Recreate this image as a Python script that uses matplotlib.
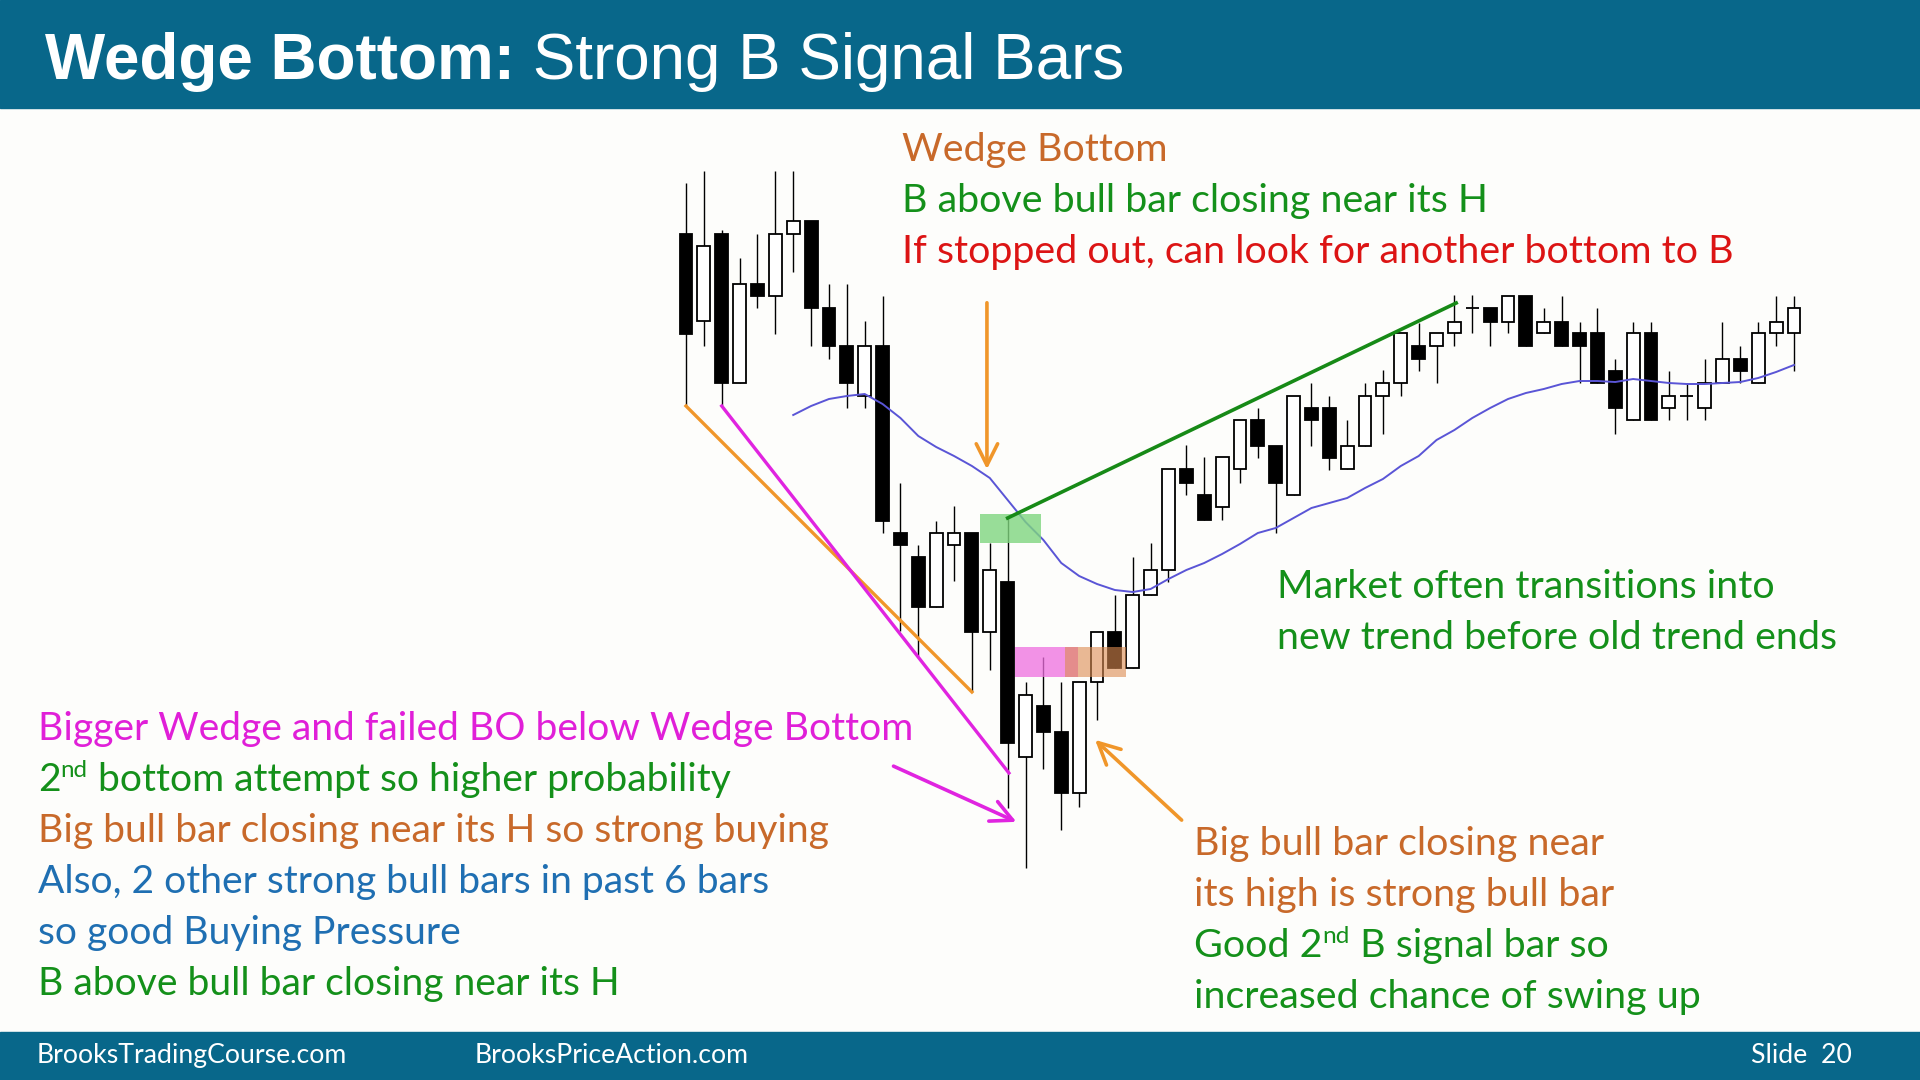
import numpy as np
import matplotlib
matplotlib.use("Agg")
import matplotlib.pyplot as plt
from matplotlib.patches import Rectangle

W, H = 1920, 1080
SLIDE_TOP = 1080  # bar levels in px from the top edge

# --- OHLC, one entry per bar (px from top of slide) ---
OPEN_PX = [234, 321, 234, 383, 284, 296, 234, 221, 308, 346,
           396, 346, 533, 557, 607, 545, 533, 632, 582, 757,
           706, 732, 793, 682, 632, 668, 595, 570, 469, 495,
           507, 469, 420, 446, 495, 408, 408, 469, 446, 396,
           383, 346, 346, 333, 308, 308, 322, 296, 333, 322,
           333, 333, 371, 420, 333, 408, 396, 408, 383, 359,
           383, 333, 333]
HIGH_PX = [183, 171, 230, 258, 234, 171, 171, 221, 284, 284,
           321, 296, 483, 545, 521, 506, 533, 543, 518, 682,
           657, 682, 682, 632, 595, 557, 543, 469, 445, 457,
           457, 420, 408, 446, 396, 383, 396, 420, 383, 370,
           333, 323, 333, 295, 295, 308, 296, 296, 308, 296,
           322, 308, 359, 322, 322, 371, 383, 359, 322, 346,
           322, 296, 296]
LOW_PX = [406, 346, 406, 383, 308, 334, 272, 346, 359, 408,
          408, 533, 631, 656, 607, 581, 692, 670, 808, 868,
          769, 830, 807, 720, 668, 668, 595, 582, 495, 520,
          520, 483, 458, 533, 495, 446, 470, 469, 446, 434,
          396, 371, 383, 346, 333, 346, 333, 346, 333, 346,
          383, 383, 434, 420, 420, 420, 420, 420, 383, 383,
          383, 346, 371]
CLOSE_PX = [334, 246, 383, 284, 296, 234, 221, 308, 346, 383,
            346, 521, 545, 607, 533, 533, 632, 570, 743, 695,
            732, 793, 682, 632, 668, 595, 570, 469, 483, 520,
            457, 420, 446, 483, 396, 420, 458, 446, 396, 383,
            333, 359, 333, 322, 308, 322, 296, 346, 322, 346,
            346, 383, 408, 333, 420, 396, 396, 383, 359, 371,
            333, 322, 308]

# moving average, starts at bar 6
MA_START = 6
MA_PX = [415, 406, 399, 396, 394, 404, 418, 436, 447, 456,
         466, 478, 500, 522, 540, 563, 576, 584, 590, 592,
         589, 579, 570, 563, 554, 544, 533, 528, 518, 508,
         503, 498, 488, 479, 466, 456, 440, 430, 418, 408,
         399, 393, 389, 384, 381, 381, 382, 379, 381, 383,
         384, 384, 383, 382, 378, 372, 365]

# trend lines (bar index, px)
ORANGE_LINE = ([0, 16], [406, 692])
MAGENTA_LINE = ([2, 18.07], [406, 773])
GREEN_LINE = ([18, 43.1], [518, 303])

# highlighted zones (bar index span, px span)
ZONES = [
    ((16.45, 19.85), (514, 543), "#7fd67f", 0.8),
    ((18.4, 21.95), (647, 677), "#ef6fe0", 0.75),
    ((21.2, 24.6), (647, 677), "#dc8a50", 0.6),
]

# arrows: (tail idx, tail px, head idx, head px, colour)
ARROWS = [
    (16.84, 300, 16.84, 472, "#f0962a"),
    (11.47, 765, 18.63, 823, "#e024e0"),
    (27.85, 822, 22.78, 738, "#f0962a"),
]

BAR0_X, BAR_STEP = 686, 17.87

TEAL = "#08678a"
BROWN = "#c8692a"
GREEN = "#14901a"
RED = "#dc1414"
MAGENTA = "#e01fd8"
BLUE = "#1f6fb2"
BODY_FONT = ["Lato", "DejaVu Sans"]
TITLE_FONT = ["Liberation Sans Narrow", "Liberation Sans"]


def price(px):
    return SLIDE_TOP - np.asarray(px, float)


fig = plt.figure(figsize=(19.2, 10.8), dpi=100)
fig.patch.set_facecolor("#fdfdfb")

ov = fig.add_axes([0, 0, 1, 1])
ov.set_xlim(0, W)
ov.set_ylim(H, 0)
ov.axis("off")
ov.add_patch(Rectangle((0, 0), W, 108, color=TEAL, zorder=0))
ov.add_patch(Rectangle((0, 1032), W, 48, color=TEAL, zorder=0))

ax = fig.add_axes([0, 0, 1, 1], zorder=1)
ax.patch.set_alpha(0)
ax.set_xlim(-BAR0_X / BAR_STEP, (W - BAR0_X) / BAR_STEP)
ax.set_ylim(0, H)
ax.axis("off")

o, h, l, c = price(OPEN_PX), price(HIGH_PX), price(LOW_PX), price(CLOSE_PX)
x = np.arange(len(o))
flat = o == c
bull = c > o

ax.vlines(x, l, h, color="black", lw=1.0, zorder=2)
lo = np.minimum(o, c)
ax.bar(x[~flat], np.abs(c - o)[~flat], bottom=lo[~flat], width=0.72,
       color=np.where(bull, "white", "black")[~flat],
       edgecolor="black", linewidth=1.3, zorder=3)
ax.hlines(o[flat], x[flat] - 0.36, x[flat] + 0.36, color="black", lw=1.3, zorder=3)

ma_x = np.arange(MA_START, MA_START + len(MA_PX))
ax.plot(ma_x, price(MA_PX), color="#5a55d6", lw=1.4, zorder=4)

for (x0, x1), (y0, y1), col, a in ZONES:
    ax.add_patch(Rectangle((x0, price(y1)), x1 - x0, y1 - y0,
                           facecolor=col, edgecolor="none", alpha=a, zorder=5))

ax.plot(ORANGE_LINE[0], price(ORANGE_LINE[1]), color="#f0962a", lw=2.4, zorder=6)
ax.plot(MAGENTA_LINE[0], price(MAGENTA_LINE[1]), color="#e024e0", lw=2.4, zorder=6)
ax.plot(GREEN_LINE[0], price(GREEN_LINE[1]), color="#178a17", lw=2.6, zorder=6)

for tx, ty, hx, hy, col in ARROWS:
    ax.annotate("", xy=(hx, price(hy)), xytext=(tx, price(ty)),
                arrowprops=dict(arrowstyle="->,head_length=0.7,head_width=0.35",
                                color=col, lw=2.6, mutation_scale=22),
                zorder=7)

renderer = fig.canvas.get_renderer()


def width_at(parts, size):
    total = 0.0
    for txt, fam, wt in parts:
        t = fig.text(0, 0, txt, fontsize=size, family=fam, weight=wt)
        total += t.get_window_extent(renderer).width
        t.remove()
    return total


def fit(parts, target):
    return 20 * target / width_at(parts, 20)


def draw_line(x0, base, parts, size, family=BODY_FONT, weight="normal"):
    # parts: (text, colour, superscript?)
    xx = x0
    for txt, col, sup in parts:
        fs = size * 0.62 if sup else size
        yy = base - size * 100 / 72 * 0.36 if sup else base
        t = fig.text(xx / W, 1 - yy / H, txt, fontsize=fs, color=col,
                     family=family, weight=weight, va="baseline", ha="left")
        xx = t.get_window_extent(renderer).x1


# title
title_size = fit([("Wedge Bottom:", TITLE_FONT, "bold"),
                  (" Strong B Signal Bars", TITLE_FONT, "normal")], 1079)
tx = 45
t = fig.text(tx / W, 1 - 79 / H, "Wedge Bottom:", fontsize=title_size, color="white",
             family=TITLE_FONT, weight="bold", va="baseline")
tx = t.get_window_extent(renderer).x1
fig.text(tx / W, 1 - 79 / H, " Strong B Signal Bars", fontsize=title_size, color="white",
         family=TITLE_FONT, va="baseline")

# footer
foot_size = fit([("BrooksTradingCourse.com", BODY_FONT, "normal")], 310)
for fx, txt in [(37, "BrooksTradingCourse.com"), (475, "BrooksPriceAction.com"), (1751, "Slide  20")]:
    fig.text(fx / W, 1 - 1063 / H, txt, fontsize=foot_size, color="white",
             family=BODY_FONT, va="baseline")

# annotations
fs = fit([("If stopped out, can look for another bottom to B", BODY_FONT, "normal")], 833)
fs_left = fit([("Bigger Wedge and failed BO below Wedge Bottom", BODY_FONT, "normal")], 866)
fs_left = (fs + fs_left) / 2

top_block = [
    [("Wedge Bottom", BROWN, False)],
    [("B above bull bar closing near its H", GREEN, False)],
    [("If stopped out, can look for another bottom to B", RED, False)],
]
for i, parts in enumerate(top_block):
    draw_line(902, 161 + i * 51, parts, fs)

left_block = [
    [("Bigger Wedge and failed BO below Wedge Bottom", MAGENTA, False)],
    [("2", GREEN, False), ("nd", GREEN, True), (" bottom attempt so higher probability", GREEN, False)],
    [("Big bull bar closing near its H so strong buying", BROWN, False)],
    [("Also, 2 other strong bull bars in past 6 bars", BLUE, False)],
    [("so good Buying Pressure", BLUE, False)],
    [("B above bull bar closing near its H", GREEN, False)],
]
for i, parts in enumerate(left_block):
    draw_line(38, 740 + i * 51, parts, fs_left)

right_block = [
    [("Big bull bar closing near", BROWN, False)],
    [("its high is strong bull bar", BROWN, False)],
    [("Good 2", GREEN, False), ("nd", GREEN, True), (" B signal bar so", GREEN, False)],
    [("increased chance of swing up", GREEN, False)],
]
for i, parts in enumerate(right_block):
    draw_line(1194, 855 + i * 51, parts, fs)

for i, txt in enumerate(["Market often transitions into", "new trend before old trend ends"]):
    draw_line(1277, 598 + i * 51, [(txt, GREEN, False)], fs)

fig.savefig("out.png", dpi=100, facecolor=fig.get_facecolor())
